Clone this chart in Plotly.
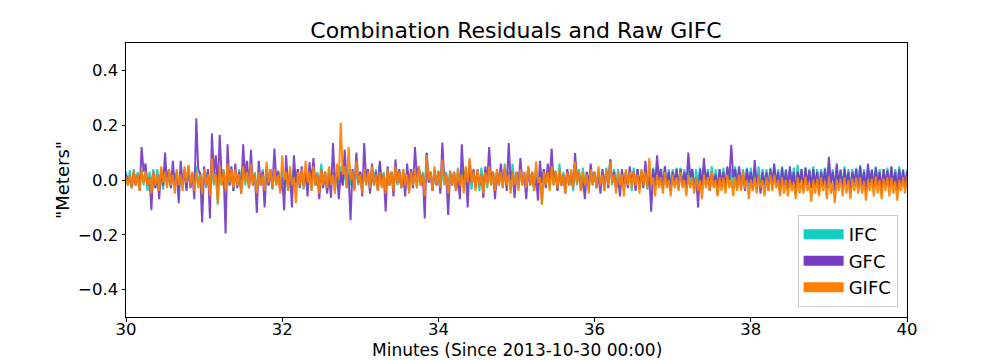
import plotly.graph_objects as go

START_MIN = 30.0
STEP_MIN = 0.025

ifc = [0.03,-0.02,0.035,-0.03,0.04,-0.02,0.03,-0.02,0.035,-0.02,0.03,-0.04,0.03,-0.02,0.04,-0.03,0.04,-0.02,0.03,-0.035,
       0.045,-0.02,0.03,-0.03,0.035,-0.02,0.03,-0.04,0.03,-0.02,0.04,-0.03,0.04,-0.02,0.03,-0.035,0.05,-0.02,0.03,-0.04,
       0.03,-0.03,0.035,-0.05,0.04,-0.02,0.03,-0.09,0.035,-0.02,0.04,-0.03,0.04,-0.02,0.03,-0.04,0.03,-0.02,0.04,-0.035,
       0.04,-0.02,0.03,-0.03,0.035,-0.02,0.03,-0.04,0.03,-0.02,0.04,-0.03,0.045,-0.02,0.03,-0.035,0.04,-0.02,0.035,-0.03,
       0.035,-0.02,0.03,-0.04,0.03,-0.02,0.04,-0.03,0.04,-0.02,0.03,-0.035,0.03,-0.02,0.035,-0.04,0.045,-0.02,0.03,-0.03,
       0.06,-0.02,0.03,-0.035,0.04,-0.02,0.03,-0.04,0.03,-0.01,0.05,-0.02,0.04,-0.03,0.04,-0.02,0.03,-0.035,0.045,-0.02,
       0.03,-0.03,0.035,-0.02,0.03,-0.04,0.03,-0.02,0.04,-0.035,0.06,-0.02,0.03,-0.03,0.04,-0.02,0.03,-0.035,0.045,-0.02,
       0.03,-0.03,0.04,-0.02,0.03,-0.04,0.035,-0.02,0.04,-0.03,0.045,-0.02,0.03,-0.035,0.10,0.0,0.03,-0.04,0.03,-0.02,
       0.035,-0.035,0.04,-0.02,0.03,-0.03,0.035,-0.02,0.03,-0.04,0.045,-0.02,0.04,-0.03,0.04,-0.02,0.03,-0.035,0.03,-0.02,
       0.03,-0.04,0.045,-0.02,0.03,-0.03,0.035,-0.02,0.03,-0.04,0.04,-0.02,0.04,-0.03,0.06,-0.01,0.03,-0.035,0.06,-0.02,
       0.03,-0.03,0.04,-0.02,0.03,-0.035,0.045,-0.02,0.03,-0.04,0.035,-0.02,0.02,-0.09,0.04,-0.02,0.03,-0.03,0.045,-0.02,
       0.035,-0.035,0.06,-0.02,0.03,-0.03,0.04,-0.02,0.03,-0.04,0.035,-0.02,0.04,-0.03,0.045,-0.02,0.03,-0.035,0.04,-0.02,
       0.03,-0.03,0.035,-0.02,0.03,-0.04,0.045,-0.01,0.075,-0.02,0.04,-0.03,0.04,-0.02,0.03,-0.035,0.03,-0.02,0.035,-0.04,
       0.045,-0.02,0.04,-0.03,0.035,-0.02,0.04,-0.035,0.04,-0.02,0.045,-0.03,0.045,-0.02,0.04,-0.035,0.05,-0.02,0.04,-0.03,
       0.04,-0.02,0.045,-0.035,0.045,-0.02,0.04,-0.03,0.05,-0.02,0.04,-0.035,0.04,-0.02,0.045,-0.03,0.045,-0.02,0.04,-0.035,
       0.05,-0.02,0.04,-0.03,0.04,-0.02,0.045,-0.035,0.045,-0.02,0.04,-0.03,0.05,-0.02,0.04,-0.035,0.04,-0.02,0.045,-0.03,
       0.045,-0.02,0.04,-0.035,0.05,-0.02,0.04,-0.03,0.04,-0.02,0.045,-0.035,0.045,-0.02,0.04,-0.03,0.05,-0.02,0.04,-0.035,
       0.04,-0.02,0.045,-0.03,0.055,-0.02,0.04,-0.035,0.045,-0.02,0.04,-0.03,0.05,-0.02,0.04,-0.035,0.04,-0.02,0.045,-0.03,
       0.06,-0.02,0.04,-0.035,0.045,-0.02,0.04,-0.03,0.05,-0.02,0.04,-0.035,0.04,-0.02,0.045,-0.03,0.055,-0.02,0.04,-0.035,
       0.045,-0.02,0.04,-0.03,0.05,-0.02,0.04,-0.035,0.04,-0.02,0.045,-0.03,0.045,-0.02,0.04,-0.035,0.05,-0.02,0.04,-0.03,
       0.04]

gfc = [0.02,-0.01,0.01,-0.03,0.03,-0.02,0.02,-0.04,0.12,0.03,0.06,-0.02,0.01,-0.11,0.03,-0.03,0.02,-0.07,0.04,-0.02,
       0.10,-0.01,0.04,-0.03,0.07,-0.02,0.03,-0.085,0.07,-0.01,0.03,-0.04,0.05,-0.03,0.02,-0.07,0.225,0.04,0.02,-0.155,
       0.05,-0.02,0.04,-0.14,0.17,0.02,0.09,-0.03,0.165,0.01,0.03,-0.195,0.13,-0.02,0.05,-0.04,0.06,-0.03,0.03,-0.05,
       0.13,0.01,0.07,-0.03,0.11,-0.02,0.02,-0.12,0.07,-0.02,0.03,-0.10,0.05,-0.02,0.04,-0.03,0.115,0.0,0.03,-0.04,
       0.01,-0.11,0.09,-0.02,0.02,-0.10,0.09,-0.01,0.04,-0.03,0.05,-0.02,0.03,-0.06,0.065,-0.01,0.08,-0.02,0.02,-0.07,
       0.04,-0.03,0.03,-0.05,0.02,-0.065,0.135,-0.01,0.03,-0.07,0.03,-0.02,0.11,0.0,0.02,-0.147,0.04,-0.03,0.10,-0.01,
       0.03,-0.06,0.135,0.0,0.04,-0.05,0.06,-0.02,0.03,-0.04,0.07,-0.02,0.02,-0.115,0.05,-0.02,0.03,-0.06,0.075,-0.01,
       0.04,-0.03,0.02,-0.06,0.06,-0.02,0.04,-0.03,0.12,0.01,0.05,-0.02,0.02,-0.14,0.098,-0.01,0.03,-0.04,0.04,-0.02,
       0.03,-0.05,0.137,0.01,0.02,-0.128,0.03,-0.02,0.03,-0.04,0.01,-0.07,0.13,0.0,0.03,-0.10,0.07,-0.01,0.04,-0.03,
       0.04,-0.02,0.02,-0.065,0.05,-0.01,0.12,0.0,0.03,-0.07,0.03,-0.02,0.06,-0.01,0.04,-0.04,0.135,0.0,0.03,-0.065,
       0.03,-0.02,0.08,-0.01,0.02,-0.07,0.05,-0.02,0.03,-0.03,0.01,-0.075,0.07,-0.01,0.04,-0.03,0.06,0.0,0.115,-0.01,
       0.03,-0.04,0.03,-0.02,0.02,-0.05,0.04,-0.02,0.03,-0.03,0.098,0.0,0.03,-0.04,0.01,-0.07,0.03,-0.02,0.06,-0.01,
       0.03,-0.03,0.02,-0.05,0.04,-0.02,0.03,-0.03,0.075,-0.01,0.03,-0.03,0.01,-0.06,0.04,-0.02,0.03,-0.03,0.05,-0.01,
       0.03,-0.04,0.04,-0.02,0.03,-0.03,0.07,-0.02,0.01,-0.116,0.04,-0.02,0.09,0.0,0.04,-0.03,0.05,-0.02,0.03,-0.04,
       0.03,-0.01,0.04,-0.03,0.04,-0.02,0.03,-0.03,0.10,0.01,0.04,-0.03,0.01,-0.10,0.04,-0.02,0.08,-0.01,0.03,-0.04,
       0.03,-0.02,0.02,-0.05,0.04,-0.02,0.03,-0.03,0.05,0.0,0.128,0.01,0.04,-0.03,0.05,-0.02,0.03,-0.04,0.04,-0.01,
       0.03,-0.03,0.073,-0.01,0.02,-0.05,0.03,-0.02,0.03,-0.04,0.04,-0.01,0.06,-0.02,0.03,-0.05,0.045,-0.02,0.035,-0.03,
       0.05,-0.02,0.03,-0.05,0.03,-0.01,0.04,-0.04,0.045,-0.02,0.035,-0.03,0.04,-0.02,0.03,-0.05,0.03,-0.02,0.04,-0.03,
       0.085,-0.01,0.03,-0.04,0.06,-0.02,0.035,-0.03,0.04,-0.02,0.03,-0.05,0.03,-0.01,0.04,-0.03,0.05,-0.02,0.03,-0.04,
       0.06,-0.01,0.035,-0.03,0.045,-0.02,0.03,-0.05,0.04,-0.02,0.035,-0.03,0.05,-0.02,0.03,-0.04,0.04,-0.02,0.035,-0.03,
       0.03]

gifc = [0.01,-0.02,0.02,-0.03,0.03,-0.02,0.02,-0.04,0.04,-0.01,0.03,-0.02,0.01,-0.05,0.03,-0.02,0.02,-0.04,0.05,-0.01,
        0.03,-0.03,0.04,-0.02,0.02,-0.05,0.04,-0.02,0.02,-0.04,0.05,-0.01,0.055,-0.02,0.03,-0.04,0.03,-0.03,0.02,-0.05,
        0.04,-0.02,0.02,-0.06,0.08,-0.01,0.02,-0.085,0.05,-0.02,0.03,-0.04,0.06,-0.01,0.04,-0.03,0.04,-0.02,0.02,-0.05,
        0.05,-0.01,0.03,-0.03,0.06,-0.02,0.02,-0.05,0.03,-0.02,0.02,-0.04,0.067,-0.01,0.04,-0.03,0.04,-0.02,0.02,-0.05,
        0.09,0.0,0.03,-0.04,0.05,-0.02,0.01,-0.085,0.03,-0.02,0.04,-0.03,0.07,-0.01,0.03,-0.04,0.05,-0.02,0.02,-0.05,
        0.04,-0.02,0.03,-0.03,0.05,-0.02,0.02,-0.05,0.06,0.0,0.21,0.02,0.05,-0.03,0.12,0.0,0.03,-0.04,0.07,-0.01,
        0.02,-0.05,0.04,-0.02,0.03,-0.03,0.05,-0.02,0.02,-0.04,0.03,-0.03,0.02,-0.05,0.04,-0.02,0.03,-0.04,0.05,-0.01,
        0.03,-0.03,0.04,-0.02,0.02,-0.05,0.03,-0.02,0.04,-0.03,0.05,-0.02,0.02,-0.06,0.09,0.0,0.03,-0.04,0.05,-0.02,
        0.03,-0.03,0.075,-0.01,0.02,-0.05,0.03,-0.02,0.03,-0.04,0.04,-0.02,0.02,-0.05,0.05,-0.01,0.08,-0.01,0.03,-0.04,
        0.04,-0.02,0.02,-0.05,0.03,-0.02,0.05,-0.02,0.03,-0.04,0.04,-0.02,0.03,-0.03,0.05,-0.02,0.02,-0.05,0.03,-0.02,
        0.03,-0.04,0.04,-0.02,0.03,-0.03,0.05,-0.02,0.03,-0.04,0.067,-0.01,0.01,-0.09,0.03,-0.02,0.03,-0.04,0.05,-0.02,
        0.03,-0.03,0.04,-0.02,0.02,-0.05,0.03,-0.02,0.04,-0.03,0.067,-0.01,0.03,-0.04,0.03,-0.02,0.02,-0.05,0.04,-0.02,
        0.03,-0.03,0.05,-0.02,0.02,-0.04,0.04,-0.02,0.067,-0.01,0.02,-0.05,0.03,-0.02,0.02,-0.06,0.04,-0.02,0.03,-0.03,
        0.03,-0.02,0.02,-0.05,0.04,-0.02,0.03,-0.03,0.08,-0.02,0.01,-0.06,0.02,-0.03,0.01,-0.05,0.03,-0.03,0.0,-0.06,
        0.02,-0.03,0.01,-0.04,0.03,-0.03,0.0,-0.06,0.02,-0.03,0.01,-0.05,0.01,-0.04,0.0,-0.07,0.02,-0.03,0.01,-0.04,
        0.03,-0.03,0.0,-0.06,0.01,-0.04,0.01,-0.05,0.02,-0.03,0.0,-0.06,0.01,-0.04,0.02,-0.04,0.03,-0.03,0.0,-0.07,
        0.0,-0.04,0.01,-0.05,0.02,-0.03,0.0,-0.06,0.01,-0.04,0.02,-0.04,0.02,-0.03,0.0,-0.06,0.01,-0.05,0.0,-0.06,
        0.0,-0.04,-0.01,-0.07,0.01,-0.05,0.0,-0.05,0.012,-0.04,-0.01,-0.08,0.0,-0.05,0.005,-0.06,0.01,-0.04,-0.005,-0.07,
        0.012,-0.05,-0.01,-0.085,0.0,-0.04,0.005,-0.06,0.01,-0.05,0.0,-0.07,0.005,-0.04,0.01,-0.05,0.01,-0.05,-0.005,-0.075,
        0.0,-0.04,0.005,-0.06,0.012,-0.05,0.0,-0.07,0.005,-0.04,0.01,-0.06,0.01,-0.05,-0.005,-0.075,0.0,-0.04,0.01,-0.05,
        0.01]

series_names = ["IFC", "GFC", "GIFC"]
series_values = [ifc, gfc, gifc]
series_colors = ["#11cfc1", "#763ac4", "#ff8000"]

x_ticks = [30, 32, 34, 36, 38, 40]
y_ticks = [-0.4, -0.2, 0.0, 0.2, 0.4]
x_title = "Minutes (Since 2013-10-30 00:00)"
y_title = '"Meters"'

fig = go.Figure()
for name, vals, col in zip(series_names, series_values, series_colors):
    minutes = [START_MIN + STEP_MIN * i for i in range(len(vals))]
    fig.add_trace(go.Scatter(x=minutes, y=vals, mode="lines",
                             line=dict(color=col, width=2),
                             opacity=0.92, showlegend=False, hoverinfo="skip"))
for name, col in zip(series_names, series_colors):
    fig.add_trace(go.Scatter(x=[None], y=[None], mode="lines", name=name,
                             line=dict(color=col, width=14)))

axis_common = dict(showline=True, linecolor="black", linewidth=1, mirror=True,
                   ticks="outside", ticklen=3.5, tickcolor="black", showgrid=False,
                   zeroline=False, automargin=False,
                   tickfont=dict(size=16.5, color="black"))

fig.update_layout(
    width=1000, height=352,
    margin=dict(l=118, r=101, t=35, b=43),
    paper_bgcolor="white", plot_bgcolor="white",
    font=dict(family="DejaVu Sans", color="black"),
    title=dict(text="Combination Residuals and Raw GIFC", x=0.508, xanchor="center",
               y=0.9375, yanchor="middle", font=dict(size=22)),
    xaxis=dict(range=[30, 40], tickvals=x_ticks, ticktext=[str(v) for v in x_ticks],
               ticklabelstandoff=-6, **axis_common),
    yaxis=dict(range=[-0.5, 0.5], tickvals=y_ticks, tickformat=".1f",
               title=dict(text=y_title, font=dict(size=18), standoff=3),
               **axis_common),
    legend=dict(x=0.988, y=0.036, xanchor="right", yanchor="bottom",
                bgcolor="rgba(255,255,255,0.85)", bordercolor="#cccccc", borderwidth=1,
                font=dict(size=18), itemwidth=40),
    annotations=[dict(text=x_title, xref="paper", yref="paper", x=0.5, y=0,
                      xanchor="center", yanchor="middle", yshift=-33, showarrow=False,
                      font=dict(size=17, color="black"))],
)

fig.write_html("out.html")
